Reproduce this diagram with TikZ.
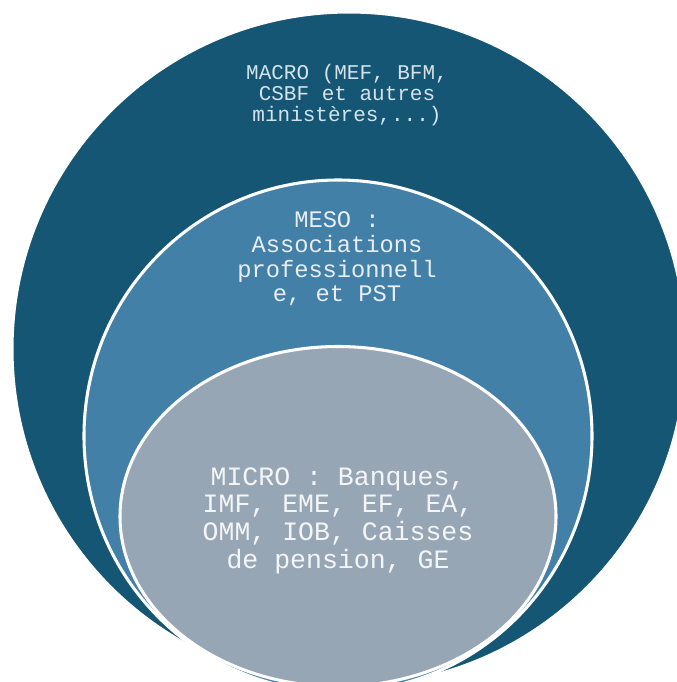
\documentclass[tikz,border=0pt]{standalone}
\usepackage{fontspec}
\newfontfamily\cour{Liberation Mono}
\definecolor{macroC}{RGB}{20,86,116}
\definecolor{mesoC}{RGB}{66,128,168}
\definecolor{microC}{RGB}{151,166,180}
\definecolor{macroT}{RGB}{214,226,234}
\definecolor{mesoT}{RGB}{232,238,243}
\definecolor{microT}{RGB}{244,245,247}
\tikzset{
  ring/.style={draw=white, line width=2.3pt},
  lbl/.style={align=center, inner sep=0pt, font=\cour}
}
\begin{document}
\begin{tikzpicture}[x=0.75pt,y=-0.75pt]
\useasboundingbox (0,0) rectangle (677,682);
\clip (0,0) rectangle (677,682);
\path[ring, fill=macroC] (349,349) ellipse [x radius=337, y radius=337];
\path[ring, fill=mesoC] (338,436) ellipse [x radius=254, y radius=256];
\path[ring, fill=microC] (338,516.5) ellipse [x radius=218, y radius=170];
\node[lbl, text=macroT, font=\cour\fontsize{15.75}{15.75}\selectfont] (macro) at (347,95.5)
  {MACRO (MEF, BFM,\\ CSBF et autres\\ministères,...)};
\node[lbl, text=mesoT, font=\cour\fontsize{17.8}{18.5}\selectfont] (meso) at (337,259)
  {MESO :\\Associations\\professionnell\\e, et PST};
\node[lbl, text=microT, font=\cour\fontsize{19.9}{20.8}\selectfont] (micro) at (338,520.5)
  {MICRO : Banques,\\IMF, EME, EF, EA,\\OMM, IOB, Caisses\\de pension, GE};
\end{tikzpicture}
\end{document}
